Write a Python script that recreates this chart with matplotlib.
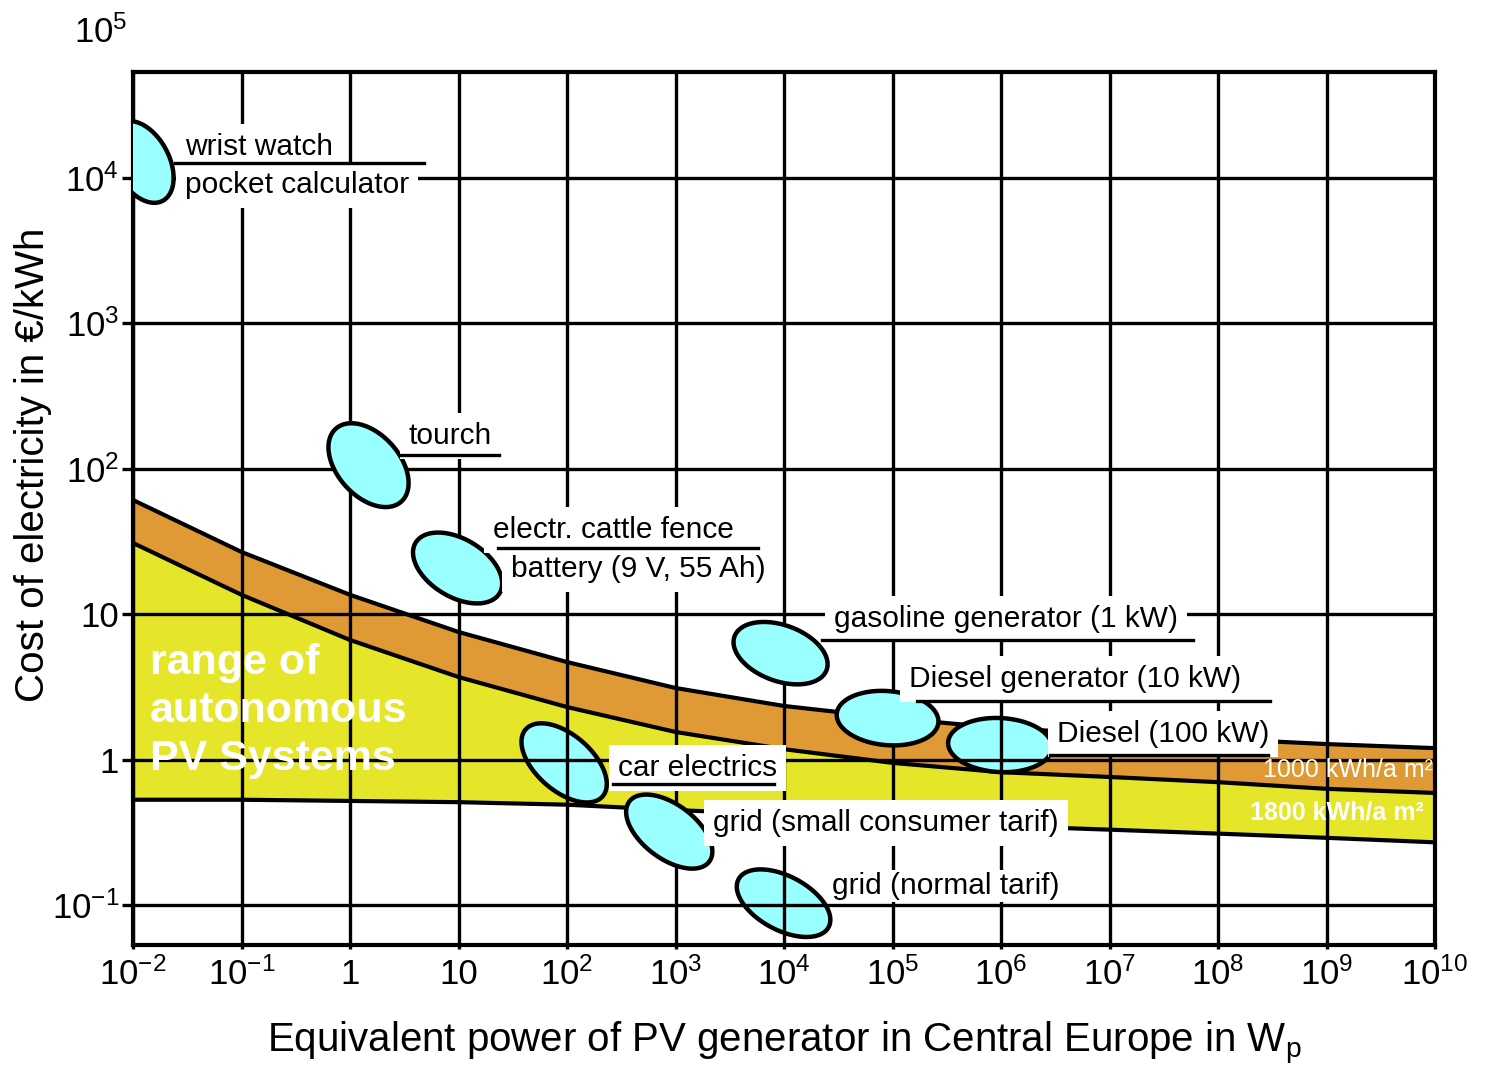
import numpy as np
import matplotlib.pyplot as plt

plt.rcParams['font.family'] = ['Liberation Sans', 'DejaVu Sans']
plt.rcParams['mathtext.fontset'] = 'custom'
plt.rcParams['mathtext.rm'] = 'Liberation Sans'
plt.rcParams['mathtext.it'] = 'Liberation Sans:italic'
plt.rcParams['mathtext.bf'] = 'Liberation Sans:bold'

power = [1e-2, 1e-1, 1e0, 1e1, 1e2, 1e3, 1e4, 1e5, 1e6, 1e7, 1e8, 1e9, 1e10]
# upper edge of the band (1000 kWh/a m2), EUR/kWh
cost_top = [61.0, 26.8, 13.6, 7.55, 4.69, 3.11, 2.34, 1.93, 1.65, 1.50, 1.39, 1.28, 1.20]
# border between the 1000 and 1800 kWh/a m2 bands
cost_mid = [30.9, 13.6, 6.65, 3.70, 2.30, 1.55, 1.18, 0.95, 0.82, 0.76, 0.70, 0.63, 0.59]
# lower edge of the band (1800 kWh/a m2)
cost_low = [0.53, 0.53, 0.52, 0.51, 0.49, 0.45, 0.42, 0.385, 0.35, 0.33, 0.31, 0.29, 0.27]

# conventional supplies: typical power (Wp) and cost (EUR/kWh)
supply_names = ['wrist watch', 'tourch', 'cattle fence', 'gasoline 1 kW', 'diesel 10 kW',
                'diesel 100 kW', 'car electrics', 'grid small', 'grid normal']
supply_power = [0.0121, 1.48, 9.8, 9290, 9.0e4, 9.8e5, 94, 875, 9900]
supply_cost = [1.29e4, 106, 20.8, 5.4, 1.93, 1.26, 0.95, 0.32, 0.103]
# blob shape in pixels: semi axes and tilt; some blobs let the grid show through
blob_a = [44, 49, 49, 49, 51, 52, 51, 50, 51]
blob_b = [27, 31, 29, 28, 27, 27, 28, 27, 27]
blob_ang = [-62, -48, -31, -20, -5, -3, -41, -37, -28]
blob_under_grid = [False, False, False, False, False, True, True, False, True]

x_ticks = [1e-2, 1e-1, 1, 10, 1e2, 1e3, 1e4, 1e5, 1e6, 1e7, 1e8, 1e9, 1e10]
x_ticklabels = ['$10^{-2}$', '$10^{-1}$', '1', '10', '$10^{2}$', '$10^{3}$', '$10^{4}$',
                '$10^{5}$', '$10^{6}$', '$10^{7}$', '$10^{8}$', '$10^{9}$', '$10^{10}$']
y_ticks = [1e-1, 1, 10, 1e2, 1e3, 1e4]
y_ticklabels = ['$10^{-1}$', '1', '10', '$10^{2}$', '$10^{3}$', '$10^{4}$']

ORANGE = '#E09A35'
YELLOW = '#E5E52A'
CYAN = '#99FFFF'
LW = 2.4

fig = plt.figure(figsize=(14.9, 10.67), dpi=100)
ax = fig.add_axes([0.0893, 0.1143, 0.8738, 0.8182])
ax.set_xscale('log')
ax.set_yscale('log')
xmin, xmax = 1e-2, 1e10
ymin, ymax = 10 ** -1.275, 10 ** 4.729
ax.set_xlim(xmin, xmax)
ax.set_ylim(ymin, ymax)

# cost bands for the two irradiation levels
ax.fill_between(power, cost_mid, cost_top, color=ORANGE, lw=0, zorder=1)
ax.fill_between(power, cost_low, cost_mid, color=YELLOW, lw=0, zorder=1)
for c in (cost_top, cost_mid, cost_low):
    ax.plot(power, c, color='black', lw=3.0, zorder=2, solid_capstyle='butt')

# grid on top of the bands
ax.set_axisbelow(False)
ax.grid(True, which='major', color='black', lw=LW)
ax.minorticks_off()
ax.set_xticks(x_ticks)
ax.set_xticklabels(x_ticklabels)
ax.set_yticks(y_ticks)
ax.set_yticklabels(y_ticklabels)
ax.tick_params(axis='both', which='major', labelsize=25, width=LW, color='black')
ax.tick_params(axis='y', length=8, pad=2)
ax.tick_params(axis='x', length=3, pad=6)
for s in ax.spines.values():
    s.set_linewidth(3.0)
ax.text(-0.004, 1e5, '$10^{5}$', transform=ax.get_yaxis_transform(),
        ha='right', va='center', fontsize=25, clip_on=False)

# pixels per decade, used to keep the blobs round on screen
bb = ax.get_position()
dec_x = bb.width * fig.get_figwidth() * fig.dpi / np.log10(xmax / xmin)
dec_y = bb.height * fig.get_figheight() * fig.dpi / np.log10(ymax / ymin)

t = np.linspace(0, 2 * np.pi, 240)
for p, c, a, b, ang, under in zip(supply_power, supply_cost, blob_a, blob_b,
                                  blob_ang, blob_under_grid):
    th = np.deg2rad(ang)
    ex = a * np.cos(t) * np.cos(th) - b * np.sin(t) * np.sin(th)
    ey = a * np.cos(t) * np.sin(th) + b * np.sin(t) * np.cos(th)
    ax.fill(p * 10 ** (ex / dec_x), c * 10 ** (ey / dec_y), facecolor=CYAN,
            edgecolor='black', lw=3.2, zorder=2.2 if under else 3)

box = dict(facecolor='white', edgecolor='none', boxstyle='square,pad=0.3')
lab = dict(fontsize=21.5, ha='left', va='center', zorder=4, bbox=box)

ax.text(0.030, 1.63e4, 'wrist watch', **lab)
ax.text(0.030, 8950, 'pocket calculator', **lab)
ax.plot([0.0244, 4.77], [1.27e4, 1.27e4], color='black', lw=LW, zorder=5)

ax.text(3.47, 168, 'tourch', **lab)
ax.plot([2.93, 23.5], [124, 124], color='black', lw=LW, zorder=5)

ax.text(20.7, 37.9, 'electr. cattle fence', **lab)
ax.text(30.4, 20.5, 'battery (9 V, 55 Ah)', **lab)
ax.plot([23.1, 5810], [28.5, 28.5], color='black', lw=LW, zorder=5)

ax.text(2.87e4, 9.27, 'gasoline generator (1 kW)', **lab)
ax.plot([2.22e4, 5.82e7], [6.65, 6.65], color='black', lw=LW, zorder=5)

ax.text(1.41e5, 3.58, 'Diesel generator (10 kW)', **lab)
ax.plot([1.68e5, 2.99e8], [2.53, 2.53], color='black', lw=LW, zorder=5)

ax.text(3.29e6, 1.50, 'Diesel (100 kW)', **lab)
ax.plot([2.84e6, 2.87e8], [1.08, 1.08], color='black', lw=LW, zorder=5)

ax.text(296, 0.875, 'car electrics', **lab)
ax.plot([266, 8000], [0.68, 0.68], color='black', lw=LW, zorder=5)

ax.text(2230, 0.366, 'grid (small consumer tarif)', **lab)
ax.text(2.75e4, 0.135, 'grid (normal tarif)', fontsize=21.5, ha='left', va='center',
        zorder=4, bbox=dict(facecolor='white', edgecolor='none', boxstyle='square,pad=0.08'))

ax.text(0.0144, 2.16, 'range of\nautonomous\nPV Systems', color='white', fontsize=31,
        fontweight='bold', ha='left', va='center', linespacing=1.25, zorder=4)
ax.text(9.6e9, 0.85, '1000 kWh/a m²', color='white', fontsize=18,
        ha='right', va='center', zorder=4)
ax.text(7.8e9, 0.43, '1800 kWh/a m²', color='white', fontsize=18, fontweight='bold',
        ha='right', va='center', zorder=4)

ax.set_xlabel(r'Equivalent power of PV generator in Central Europe in W$_\mathregular{p}$',
              fontsize=29)
ax.xaxis.set_label_coords(0.5, -0.086)
ax.set_ylabel('Cost of electricity in €/kWh', fontsize=29)
ax.yaxis.set_label_coords(-0.062, 0.55)

fig.savefig('out.png', dpi=100)
